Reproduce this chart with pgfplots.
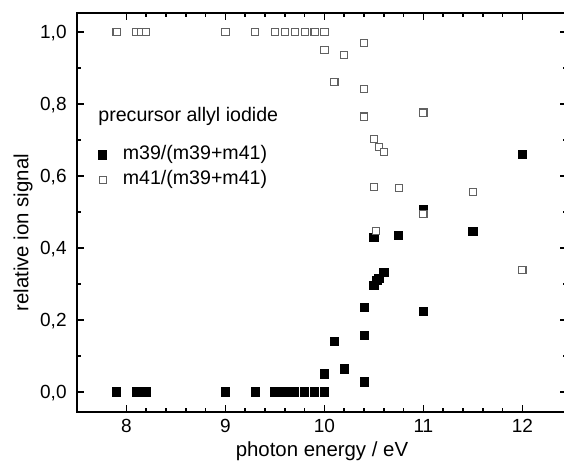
\documentclass[border=0pt]{standalone}
\usepackage{pgfplots}
\pgfplotsset{compat=1.18}
\usepackage{fontspec}
\setmainfont{Liberation Sans}

\begin{document}
\begin{tikzpicture}
\begin{axis}[
    scale only axis,
    width=245pt, height=199.5pt,
    xmin=7.5, xmax=12.45,
    ymin=-0.0556, ymax=1.0528,
    xtick={8,9,10,11,12},
    minor x tick num=4,
    ytick={0,0.2,0.4,0.6,0.8,1.0},
    minor y tick num=1,
    tick align=inside,
    major tick length=3.5pt,
    minor tick length=1.8pt,
    every tick/.style={black, line width=0.8pt},
    axis line style={line width=1pt},
    /pgf/number format/assume math mode=true,
    yticklabel style={/pgf/number format/use comma, /pgf/number format/fixed,
        /pgf/number format/fixed zerofill, /pgf/number format/precision=1},
    yticklabel style={font=\fontsize{9.5}{11}\selectfont, inner sep=0pt, anchor=base east, xshift=-5pt, yshift=-3.4pt},
    xticklabel style={font=\fontsize{9.5}{11}\selectfont, inner sep=0pt, anchor=base, yshift=-10.5pt},
    xlabel={photon energy / eV},
    ylabel={relative ion signal},
    every axis x label/.style={at={(rel axis cs:0.5,0)}, anchor=base, yshift=-22.5pt, font=\fontsize{10.2}{12}\selectfont},
    every axis y label/.style={at={(rel axis cs:0,0.449)}, xshift=-27pt, rotate=90, anchor=center, font=\fontsize{10.2}{12}\selectfont},
    legend style={draw=none, fill=none, inner sep=0pt, outer sep=0pt,
        at={(rel axis cs:0,1)}, anchor=north west, xshift=10.8pt, yshift=-66.5pt,
        font=\fontsize{9.8}{11.8}\selectfont,
        nodes={inner sep=0pt, text height=7pt, text depth=2pt},
        column sep=8pt, row sep=3.5pt},
    legend cell align=left,
    legend image code/.code={\draw[#1] plot coordinates {(0pt,0pt)};},
    clip=false,
]
\addplot[only marks, mark=square*, mark size=2.05pt, mark options={fill=black, draw=black}] coordinates {
    (7.9,0) (8.1,0) (8.15,0) (8.2,0) (9.0,0) (9.3,0) (9.5,0) (9.6,0) (9.7,0)
    (9.8,0) (9.9,0) (10.0,0) (10.0,0.05) (10.1,0.14) (10.2,0.064)
    (10.4,0.028) (10.4,0.158) (10.4,0.235) (10.5,0.295) (10.53,0.311)
    (10.55,0.316) (10.6,0.332) (10.5,0.43) (10.75,0.434) (11.0,0.223)
    (11.0,0.506) (11.5,0.445) (12.0,0.661)
};
\addlegendentry{m39/(m39+m41)}
\addplot[only marks, mark=square*, mark size=1.8pt, mark options={fill=white, draw=black!62, line width=0.55pt}] coordinates {
    (7.9,1) (8.1,1) (8.15,1) (8.2,1) (9.0,1) (9.3,1) (9.5,1) (9.6,1) (9.7,1)
    (9.8,1) (9.9,1) (10.0,1) (10.0,0.95) (10.1,0.862) (10.2,0.936)
    (10.4,0.97) (10.4,0.842) (10.4,0.765) (10.5,0.703) (10.55,0.681)
    (10.6,0.666) (10.5,0.570) (10.52,0.448) (10.75,0.566) (11.0,0.776)
    (11.0,0.494) (11.5,0.555) (12.0,0.339)
};
\addlegendentry{m41/(m39+m41)}
\node[anchor=base west, inner sep=0pt, font=\fontsize{9.8}{11.8}\selectfont, xshift=10.5pt, yshift=-54pt] at (rel axis cs:0,1) {precursor allyl iodide};
\coordinate (bbsw) at (rel axis cs:0,0);
\coordinate (bbne) at (axis cs:12.42,1.0528);
\end{axis}
\pgfresetboundingbox
\path ([xshift=-38.5pt,yshift=-25.5pt]bbsw) rectangle ([yshift=6.5pt]bbne);
\end{tikzpicture}
\end{document}
